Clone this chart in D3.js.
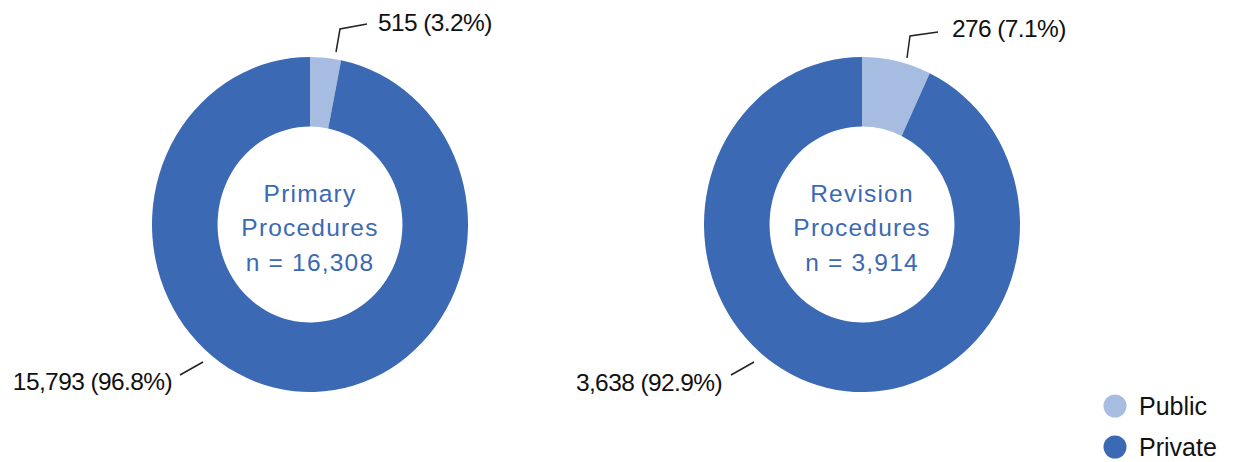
<!DOCTYPE html>
<html>
<head>
<meta charset="utf-8">
<script src="https://cdn.jsdelivr.net/npm/d3@7"></script>
<style>
  body { margin: 0; background: #fff; }
  svg { display: block; }
  text { font-family: "Liberation Sans", Arial, sans-serif; }
</style>
</head>
<body>
<div id="chart"></div>
<script>
// chart values
var categories = ["Public", "Private"];
var primaryValues = [515, 15793];
var revisionValues = [276, 3638];
var centreTitles = [["Primary", "Procedures"], ["Revision", "Procedures"]];
var colours = ["#a7bce1", "#3b69b3"];

var width = 1246, height = 462;

var svg = d3.select("#chart").append("svg")
    .attr("width", width)
    .attr("height", height);

var colour = d3.scaleOrdinal().domain(categories).range(colours);
var fmtN = d3.format(",");
var fmtP = d3.format(".1f");

// donuts are a little squashed sideways in the original
var outerR = 167.5, innerR = 98, squash = 158 / 167.5;

var pie = d3.pie().sort(null).value(d => d.value);
var arc = d3.arc().innerRadius(innerR).outerRadius(outerR);

// layout for each donut: centre and where its two labels go
var donuts = [
    {
        values: primaryValues, title: centreTitles[0], cx: 310, cy: 224.5,
        labels: [
            {x: 378, y: 31, anchor: "start", line: [[336, 52], [340, 29], [367, 24]]},
            {x: 172, y: 390, anchor: "end", line: [[180, 375], [203, 362]]}
        ]
    },
    {
        values: revisionValues, title: centreTitles[1], cx: 862, cy: 224.5,
        labels: [
            {x: 952, y: 37, anchor: "start", line: [[907, 58], [910, 36], [938, 32]]},
            {x: 722, y: 391, anchor: "end", line: [[731, 375], [754, 362]]}
        ]
    }
];

donuts.forEach(function(dn) {
    var data = categories.map((c, i) => ({cat: c, value: dn.values[i]}));
    var total = d3.sum(dn.values);

    var g = svg.append("g")
        .attr("transform", `translate(${dn.cx},${dn.cy}) scale(${squash},1)`);

    g.selectAll("path")
        .data(pie(data))
        .join("path")
        .attr("d", arc)
        .attr("fill", d => colour(d.data.cat));

    // centre text
    var lines = dn.title.concat(["n = " + fmtN(total)]);
    svg.append("g")
        .selectAll("text")
        .data(lines)
        .join("text")
        .attr("x", dn.cx)
        .attr("y", (d, i) => dn.cy - 23 + i * 34.5)
        .attr("text-anchor", "middle")
        .attr("font-size", 24.5)
        .attr("letter-spacing", "1.2px")
        .attr("fill", colours[1])
        .text(d => d);

    // outside labels with leader lines
    data.forEach(function(d, i) {
        var lab = dn.labels[i];
        svg.append("path")
            .attr("d", d3.line()(lab.line))
            .attr("fill", "none")
            .attr("stroke", "#222")
            .attr("stroke-width", 1.5);
        svg.append("text")
            .attr("x", lab.x)
            .attr("y", lab.y)
            .attr("text-anchor", lab.anchor)
            .attr("font-size", 24.5)
            .attr("letter-spacing", "-0.6px")
            .attr("fill", "#111")
            .text(fmtN(d.value) + " (" + fmtP(d.value / total * 100) + "%)");
    });
});

// legend
var legend = svg.append("g").selectAll("g")
    .data(categories)
    .join("g")
    .attr("transform", (d, i) => `translate(1115,${406 + i * 41})`);

legend.append("circle")
    .attr("r", 11.5)
    .attr("fill", d => colour(d));

legend.append("text")
    .attr("x", 24)
    .attr("y", 9)
    .attr("font-size", 25)
    .attr("fill", "#111")
    .text(d => d);
</script>
</body>
</html>
